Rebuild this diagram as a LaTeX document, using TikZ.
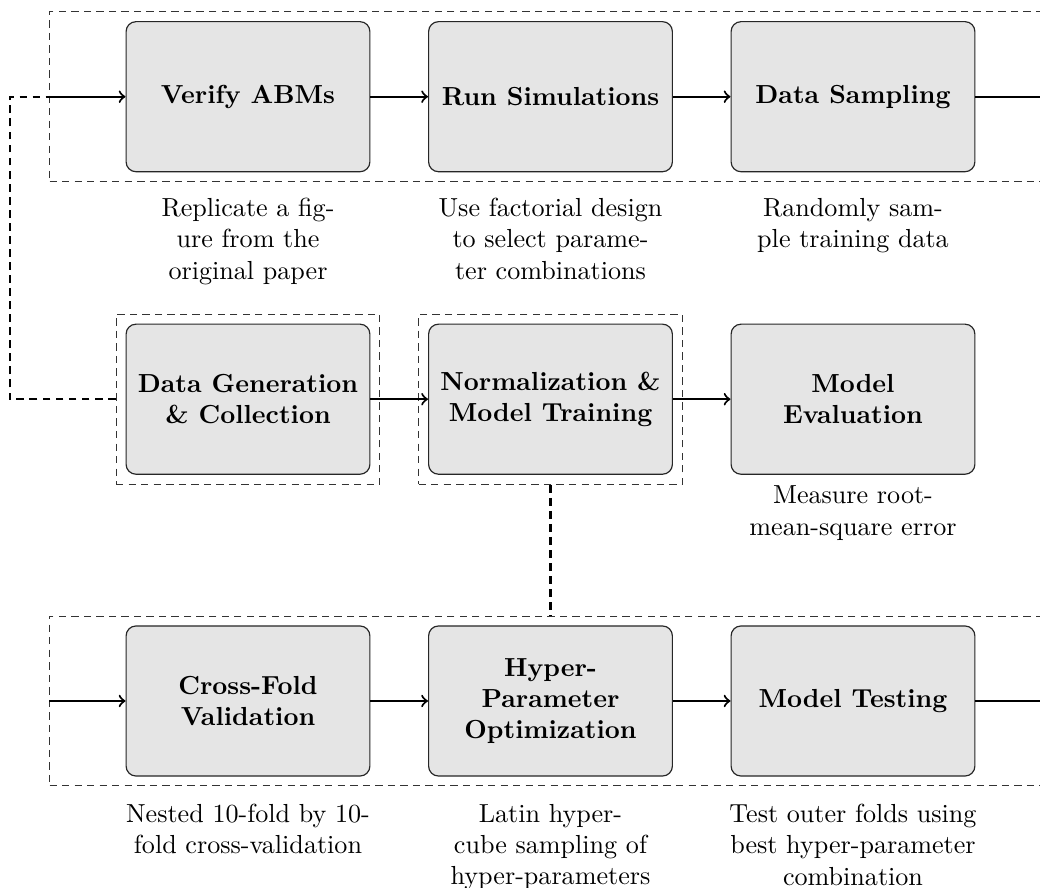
\documentclass[tikz,border=0pt]{standalone}
\usetikzlibrary{fit}
\tikzset{
  stepbox/.style={draw=black!85, line width=0.45pt, fill=black!10, rounded corners=3.8pt,
    minimum width=93.4pt, minimum height=57.5pt, align=center, font=\bfseries, inner sep=2pt},
  note/.style={align=center, inner sep=0pt, anchor=north},
  dashbox/.style={draw=black!80, line width=0.4pt, dash pattern=on 2.8pt off 2pt},
  flow/.style={draw=black, line width=0.8pt, ->},
  link/.style={draw=black, line width=0.85pt, dash pattern=on 3pt off 2pt},
}
\begin{document}
\begin{tikzpicture}[x=0.3831pt, y=-0.3831pt]
\useasboundingbox (0,0) rectangle (1040,888);
\clip (0,0) rectangle (1040,888);

% bands
\node[dashbox, anchor=west, minimum width=402.6pt, minimum height=65.1pt, inner sep=0pt] (band1) at (49,96.7) {};
\node[dashbox, anchor=west, minimum width=402.6pt, minimum height=65.1pt, inner sep=0pt] (band3) at (49,701) {};

% row 1
\node[stepbox] (va) at (248,96.7) {Verify ABMs};
\node[stepbox] (rs) at (550.5,96.7) {Run Simulations};
\node[stepbox] (ds) at (853,96.7) {Data Sampling};

% row 2
\node[stepbox] (dg) at (248,399.2) {Data Generation\\\& Collection};
\node[stepbox] (nt) at (550.5,399.2) {Normalization \&\\Model Training};
\node[stepbox] (me) at (853,399.2) {Model\\Evaluation};
\node[dashbox, fit=(dg), inner sep=3.6pt] (dgfit) {};
\node[dashbox, fit=(nt), inner sep=3.6pt] (ntfit) {};

% row 3
\node[stepbox] (cf) at (248,701) {Cross-Fold\\Validation};
\node[stepbox] (hp) at (550.5,701) {Hyper-\\Parameter\\Optimization};
\node[stepbox] (mt) at (853,701) {Model Testing};

% labels
\node[note] (l1) at (248,197.5) {Replicate a fig-\\ure from the\\original paper};
\node[note] (l2) at (550.5,197.5) {Use factorial design\\to select parame-\\ter combinations};
\node[note] (l3) at (853,197.5) {Randomly sam-\\ple training data};
\node[note] (l6) at (853,485.5) {Measure root-\\mean-square error};
\node[note] (l7) at (248,803.5) {Nested 10-fold by 10-\\fold cross-validation};
\node[note] (l8) at (550.5,803.5) {Latin hyper-\\cube sampling of\\hyper-parameters};
\node[note] (l9) at (853,803.5) {Test outer folds using\\best hyper-parameter\\combination};

% connectors
\coordinate (e1) at (1070,96.7);
\coordinate (e3) at (1070,701);
\coordinate (lx) at (10,399.2);

\draw[flow] (band1.west) -- (va.west);
\draw[flow] (va.east) -- (rs.west);
\draw[flow] (rs.east) -- (ds.west);
\draw[flow] (ds.east) -- (e1);

\draw[flow] (dg.east) -- (nt.west);
\draw[flow] (nt.east) -- (me.west);

\draw[flow] (band3.west) -- (cf.west);
\draw[flow] (cf.east) -- (hp.west);
\draw[flow] (hp.east) -- (mt.west);
\draw[flow] (mt.east) -- (e3);

\draw[link] (dgfit.west) -- (dgfit.west -| lx) |- (band1.west);
\draw[link] (ntfit.south) -- (ntfit.south |- band3.north);
\end{tikzpicture}
\end{document}
